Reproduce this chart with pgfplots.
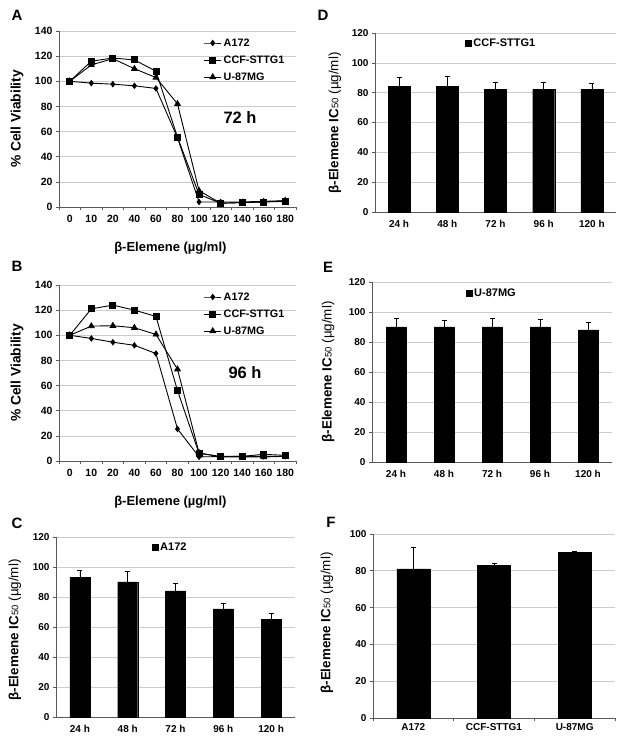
\documentclass[border=0pt]{standalone}
\usepackage{pgfplots}
\pgfplotsset{compat=1.18}
\usepackage{fontspec}
\setmainfont{Liberation Sans}

\newcommand{\fs}[1]{\fontsize{#1}{#1}\selectfont}

\pgfplotsset{
  base/.style={
    scale only axis,
    axis x line*=bottom, axis y line*=left,
    axis line style={gray!70!black, line width=0.6pt},
    ymajorgrids, grid style={gray!40, line width=0.6pt},
    tick align=outside, major tick length=3pt,
    tick style={gray!70!black, line width=0.6pt},
    /pgf/number format/assume math mode=true,
    ymin=0,
    clip=false,
  },
  linepanel/.style={
    base,
    width=237pt, height=176pt,
    xmin=-0.5, xmax=10.5, ymax=140, ytick={0,20,...,140},
    xtick={-0.5,0.5,...,10.5}, xticklabels={},
    extra x ticks={0,1,...,10},
    extra x tick labels={0,10,20,40,60,80,100,120,140,160,180},
    extra x tick style={major tick length=0pt},
    tick label style={font=\bfseries\fs{10.5}},
    xticklabel style={yshift=-5pt},
    xlabel={\bfseries β-Elemene (µg/ml)},
    xlabel style={font=\bfseries\fs{13}, at={(axis description cs:0.47,-0.235)}, anchor=center},
    ylabel={\bfseries \% Cell Viability},
    ylabel style={font=\bfseries\fs{13.8}, at={(axis description cs:-0.177,0.5)}, anchor=center},
    legend cell align=left,
    legend style={draw=none, fill=none, at={(0.61,0.97)}, anchor=north west,
      row sep=4pt, font=\bfseries\fs{10.8}, inner sep=0pt},
  },
  s1/.style={black, line width=0.9pt, mark=diamond*, mark size=2.6pt, mark options={solid}},
  s2/.style={black, line width=0.9pt, mark=square*, mark size=3pt, mark options={solid}},
  s3/.style={black, line width=0.9pt, mark=triangle*, mark size=3.2pt, mark options={solid}},
  barpanel/.style={
    base,
    tick label style={font=\bfseries\fs{10}},
    xticklabel style={yshift=-2pt},
    ylabel={{\bfseries β-Elemene IC}{\fs{9.5}50} (µg/ml)},
    ylabel style={font=\fs{13.4}, anchor=center},
    xtick style={draw=none},
    legend image code/.code={\fill[black] (0pt,-3pt) rectangle (6pt,3pt);},
    legend style={draw=none, fill=none, anchor=west, font=\bfseries\fs{11}, inner sep=0pt},
  },
  barplot/.style={ybar, fill=black, draw=black,
    error bars/y dir=plus, error bars/y explicit,
    error bars/error bar style={black, line width=0.6pt},
    error bars/error mark options={rotate=90, black, mark size=2.5pt, line width=0.6pt}},
}

\begin{document}
\begin{tikzpicture}
\useasboundingbox (0,0) rectangle (621pt,739pt);

% ---------------- Panel A (72 h)
\begin{axis}[linepanel, at={(59pt,532pt)}, anchor=south west]
\addplot[s1] coordinates {(0,100) (1,98.5) (2,97.7) (3,96.4) (4,94.3) (5,55) (6,4) (7,4) (8,4) (9,4.5) (10,5)};
\addlegendentry{A172}
\addplot[s2] coordinates {(0,100) (1,116) (2,118.5) (3,117) (4,108) (5,55.5) (6,10) (7,3) (8,3.5) (9,4) (10,4.5)};
\addlegendentry{CCF-STTG1}
\addplot[s3] coordinates {(0,100) (1,113) (2,118) (3,110) (4,103) (5,82) (6,13) (7,3) (8,3.5) (9,4) (10,5)};
\addlegendentry{U-87MG}
\node[font=\bfseries\fs{16.5}] at (rel axis cs:0.764,0.506) {72 h};
\end{axis}

% ---------------- Panel B (96 h)
\begin{axis}[linepanel, at={(59pt,278pt)}, anchor=south west]
\addplot[s1] coordinates {(0,100) (1,97.5) (2,94.5) (3,92) (4,85.5) (5,25.5) (6,3.3) (7,3.5) (8,3.7) (9,3.7) (10,3.7)};
\addlegendentry{A172}
\addplot[s2] coordinates {(0,100) (1,121) (2,124) (3,120) (4,115) (5,56) (6,6) (7,3.7) (8,3.7) (9,5.3) (10,4.5)};
\addlegendentry{CCF-STTG1}
\addplot[s3] coordinates {(0,100) (1,107.3) (2,107.6) (3,106) (4,100.7) (5,73) (6,6.5) (7,3.2) (8,3.2) (9,3.2) (10,3.7)};
\addlegendentry{U-87MG}
\node[font=\bfseries\fs{16.5}] at (rel axis cs:0.785,0.5) {96 h};
\end{axis}

% ---------------- Panel C (A172)
\begin{axis}[barpanel, at={(56pt,22pt)}, anchor=south west,
  width=239pt, height=180pt, xmin=-0.5, xmax=4.5, ymax=120, ytick={0,20,...,120},
  xtick={0,...,4}, xticklabels={24 h,48 h,72 h,96 h,120 h},
  ylabel style={at={(axis description cs:-0.172,0.483)}},
  legend style={at={(0.40,0.944)}}]
\addplot[bar width=20pt, barplot] coordinates {(0,93) +- (0,5) (1,90) +- (0,7) (2,84) +- (0,5) (3,72) +- (0,4) (4,65) +- (0,4)};
\addlegendentry{A172}
\end{axis}

% ---------------- Panel D (CCF-STTG1)
\begin{axis}[barpanel, at={(375pt,527pt)}, anchor=south west,
  width=241pt, height=179pt, xmin=-0.5, xmax=4.5, ymax=120, ytick={0,20,...,120},
  xtick={0,...,4}, xticklabels={24 h,48 h,72 h,96 h,120 h},
  ylabel style={at={(axis description cs:-0.166,0.497)}},
  legend style={at={(0.373,0.944)}}]
\addplot[bar width=22pt, barplot] coordinates {(0,84) +- (0,6) (1,84) +- (0,7) (2,82) +- (0,5) (3,82) +- (0,5) (4,82) +- (0,4.5)};
\addlegendentry{CCF-STTG1}
\end{axis}

% ---------------- Panel E (U-87MG)
\begin{axis}[barpanel, at={(372pt,277pt)}, anchor=south west,
  width=240pt, height=180pt, xmin=-0.5, xmax=4.5, ymax=120, ytick={0,20,...,120},
  xtick={0,...,4}, xticklabels={24 h,48 h,72 h,96 h,120 h},
  ylabel style={at={(axis description cs:-0.183,0.5)}},
  legend style={at={(0.39,0.939)}}]
\addplot[bar width=19.5pt, barplot] coordinates {(0,90) +- (0,5.5) (1,90) +- (0,4.5) (2,90) +- (0,6) (3,90) +- (0,5) (4,88) +- (0,5)};
\addlegendentry{U-87MG}
\end{axis}

% ---------------- Panel F (all lines)
\begin{axis}[barpanel, at={(373pt,21pt)}, anchor=south west,
  width=242pt, height=184pt, xmin=-0.5, xmax=2.5, ymax=100, ytick={0,20,...,100},
  xtick style={draw=gray!70!black},
  xtick={-0.5,0.5,1.5,2.5}, xticklabels={},
  extra x ticks={0,1,2}, extra x tick labels={A172,CCF-STTG1,U-87MG},
  extra x tick style={major tick length=0pt},
  ylabel style={at={(axis description cs:-0.19,0.516)}}]
\addplot[bar width=33pt, barplot] coordinates {(0,81) +- (0,12) (1,83) +- (0,1) (2,90) +- (0,0.6)};
\end{axis}

% ---------------- Panel letters
\node[font=\bfseries\fs{15}] at (17pt,724pt) {A};
\node[font=\bfseries\fs{15}] at (17pt,473pt) {B};
\node[font=\bfseries\fs{15}] at (17pt,216pt) {C};
\node[font=\bfseries\fs{15}] at (323pt,724pt) {D};
\node[font=\bfseries\fs{15}] at (328pt,472pt) {E};
\node[font=\bfseries\fs{15}] at (331pt,217pt) {F};
\end{tikzpicture}
\end{document}
